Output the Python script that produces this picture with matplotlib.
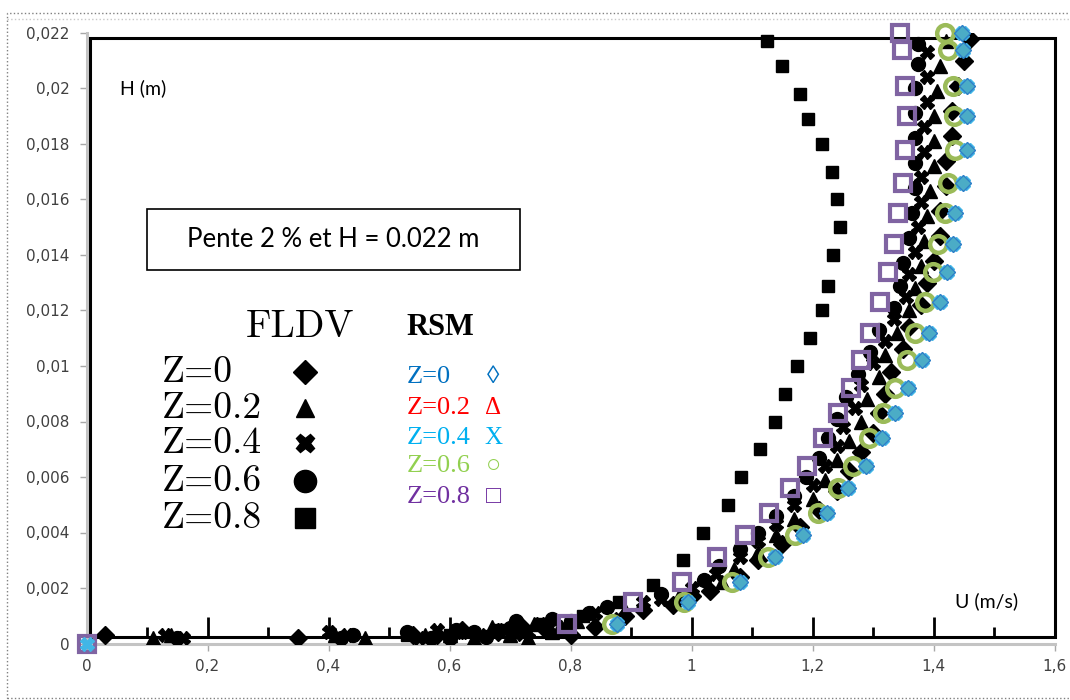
import matplotlib
matplotlib.use("Agg")
import matplotlib.pyplot as plt
from matplotlib.patches import Rectangle

# --- RSM profiles (same mesh heights for every plane) ---
h_rsm = [0.0220, 0.0214, 0.0201, 0.0190, 0.0178, 0.0166, 0.0155, 0.0144, 0.0134, 0.0123,
         0.0112, 0.0102, 0.0092, 0.0083, 0.0074, 0.0064, 0.0056, 0.0047, 0.0039, 0.0031,
         0.0022, 0.0015, 0.0007]
u_rsm_z0 = [1.447, 1.449, 1.456, 1.456, 1.456, 1.449, 1.435, 1.432, 1.422, 1.411,
            1.393, 1.381, 1.358, 1.336, 1.315, 1.288, 1.259, 1.224, 1.185, 1.138,
            1.080, 0.994, 0.877]
u_rsm_z06 = [1.419, 1.424, 1.432, 1.434, 1.436, 1.424, 1.419, 1.407, 1.399, 1.386,
             1.369, 1.356, 1.336, 1.317, 1.293, 1.267, 1.242, 1.209, 1.171, 1.127,
             1.067, 0.988, 0.869]
u_rsm_z08 = [1.345, 1.348, 1.353, 1.356, 1.353, 1.350, 1.341, 1.335, 1.325, 1.311,
             1.295, 1.280, 1.264, 1.242, 1.217, 1.191, 1.163, 1.128, 1.089, 1.042,
             0.985, 0.903, 0.794]
# wall point
u_wall, h_wall = [0.0], [0.0]

# --- FLDV measurements ---
u_fldv_z0 = [0.03, 0.35, 0.54, 0.58, 0.62, 0.68, 0.72, 0.76, 0.92, 1.00,
             0.80, 0.84, 0.89, 0.97, 1.03, 1.08, 1.11, 1.15, 1.18, 1.21,
             1.24, 1.26, 1.28, 1.30, 1.31, 1.32, 1.33, 1.35, 1.36, 1.38,
             1.39, 1.40, 1.41, 1.41, 1.42, 1.42, 1.43, 1.43, 1.44, 1.45, 1.46]
h_fldv_z0 = [0.0003, 0.0002, 0.0003, 0.0003, 0.0005, 0.0004, 0.0006, 0.0005, 0.0012, 0.0017,
             0.0003, 0.0006, 0.0010, 0.0014, 0.0019, 0.0024, 0.0030, 0.0036, 0.0042, 0.0048,
             0.0055, 0.0062, 0.0069, 0.0076, 0.0083, 0.0090, 0.0098, 0.0106, 0.0114, 0.0122,
             0.0130, 0.0138, 0.0147, 0.0156, 0.0165, 0.0174, 0.0183, 0.0192, 0.0201, 0.0210,
             0.0218]

u_fldv_z02 = [0.11, 0.14, 0.41, 0.46, 0.56, 0.60, 0.64, 0.67, 0.70, 0.74, 0.77,
              0.73, 0.78, 0.81, 0.89, 0.98, 1.05, 1.07, 1.11, 1.14, 1.17, 1.20, 1.22, 1.24,
              1.26, 1.28, 1.29, 1.31, 1.32, 1.34, 1.36, 1.37, 1.38, 1.385, 1.39, 1.395,
              1.40, 1.40, 1.40, 1.405, 1.41, 1.42]
h_fldv_z02 = [0.0002, 0.0003, 0.0003, 0.0002, 0.0003, 0.0003, 0.0002, 0.0006, 0.0003, 0.0007,
              0.0004,
              0.0002, 0.0005, 0.0008, 0.0012, 0.0017, 0.0022, 0.0027, 0.0033, 0.0039, 0.0045,
              0.0052, 0.0059, 0.0066, 0.0073, 0.0080, 0.0088, 0.0096, 0.0104, 0.0112, 0.0120,
              0.0128, 0.0136, 0.0145, 0.0154, 0.0163, 0.0172, 0.0181, 0.0190, 0.0199, 0.0208,
              0.0217]

u_fldv_z04 = [0.13, 0.16, 0.40, 0.43, 0.55, 0.62, 0.58, 0.65, 0.69, 0.73, 0.79, 0.88, 0.95,
              0.71, 0.75, 0.84, 0.92, 1.00, 1.04, 1.08, 1.11, 1.14, 1.17, 1.20, 1.22, 1.24,
              1.25, 1.27, 1.28, 1.30, 1.32, 1.335, 1.355, 1.36, 1.37, 1.375, 1.38, 1.38,
              1.385, 1.385, 1.39, 1.39, 1.39]
h_fldv_z04 = [0.0003, 0.0002, 0.0004, 0.0003, 0.0002, 0.0004, 0.0005, 0.0003, 0.0005, 0.0004,
              0.0006, 0.0009, 0.0016,
              0.00035, 0.0007, 0.0011, 0.0015, 0.0020, 0.0025, 0.0031, 0.0037, 0.0043, 0.0050,
              0.0057, 0.0064, 0.0071, 0.0078, 0.0085, 0.0093, 0.0101, 0.0109, 0.0117, 0.0125,
              0.0133, 0.0141, 0.0150, 0.0159, 0.0168, 0.0177, 0.0186, 0.0195, 0.0204, 0.0213]

u_fldv_z06 = [0.15, 0.42, 0.44, 0.57, 0.60, 0.64, 0.53, 0.61, 0.71, 0.80, 0.83,
              0.66, 0.70, 0.77, 0.86, 0.95, 1.02, 1.045, 1.08, 1.11, 1.14, 1.17, 1.19, 1.21,
              1.225, 1.24, 1.255, 1.275, 1.295, 1.31, 1.335, 1.345, 1.35, 1.36, 1.365, 1.37,
              1.37, 1.37, 1.37, 1.37, 1.375, 1.375]
h_fldv_z06 = [0.0002, 0.0002, 0.0003, 0.0002, 0.0002, 0.0004, 0.0004, 0.0005, 0.0008, 0.0008,
              0.0011,
              0.00025, 0.00055, 0.0009, 0.0013, 0.0018, 0.0023, 0.0028, 0.0034, 0.0040, 0.0046,
              0.0053, 0.0060, 0.0067, 0.0074, 0.0081, 0.0089, 0.0097, 0.0105, 0.0113, 0.0121,
              0.0129, 0.0137, 0.0146, 0.0155, 0.0164, 0.0173, 0.0182, 0.0191, 0.0200, 0.0209,
              0.0216]

u_fldv_z08 = [0.53, 0.60, 0.68, 0.75, 0.82, 0.88, 0.936, 0.986, 1.019, 1.060, 1.082, 1.113,
              1.138, 1.155, 1.174, 1.196, 1.216, 1.226, 1.234, 1.245, 1.240, 1.232, 1.216,
              1.193, 1.179, 1.150, 1.125]
h_fldv_z08 = [0.0003, 0.0003, 0.0005, 0.0007, 0.0010, 0.0015, 0.0021, 0.0030, 0.0040, 0.0050,
              0.0060, 0.0070, 0.0080, 0.0090, 0.0100, 0.0110, 0.0120, 0.0129, 0.0140, 0.0150,
              0.0160, 0.0170, 0.0180, 0.0189, 0.0198, 0.0208, 0.0217]

x_ticks = [0, 0.2, 0.4, 0.6, 0.8, 1.0, 1.2, 1.4, 1.6]
x_labels = ["0", "0,2", "0,4", "0,6", "0,8", "1", "1,2", "1,4", "1,6"]
y_ticks = [0, 0.002, 0.004, 0.006, 0.008, 0.010, 0.012, 0.014, 0.016, 0.018, 0.020, 0.022]
y_labels = ["0", "0,002", "0,004", "0,006", "0,008", "0,01", "0,012", "0,014", "0,016",
            "0,018", "0,02", "0,022"]
inner_ticks = [0.1, 0.2, 0.3, 0.4, 0.5, 0.6, 0.7, 0.8, 0.9, 1.0, 1.1, 1.2, 1.3, 1.4, 1.5]

fldv_rows = ["Z=0", "Z=0.2", "Z=0.4", "Z=0.6", "Z=0.8"]
fldv_marks = ["D", "^", "X", "o", "s"]
rsm_rows = ["Z=0", "Z=0.2", "Z=0.4", "Z=0.6", "Z=0.8"]
rsm_syms = ["\u25ca", "\u0394", "X", "\u25cb", "\u25a1"]
rsm_cols = ["#0070C0", "#FF0000", "#00B0F0", "#92D050", "#7030A0"]

PURPLE, GREEN, AQUA, BLUE = "#8064A2", "#9BBB59", "#4BACC6", "#2E7FC8"

fig = plt.figure(figsize=(10.7, 7.0), dpi=100)
ax = fig.add_axes([86.5 / 1070, 1 - 643.5 / 700, 968 / 1070, 610.5 / 700])
ax.set_xlim(0, 1.6)
ax.set_ylim(0, 0.022)

for s in ("top", "right"):
    ax.spines[s].set_visible(False)
for s in ("left", "bottom"):
    ax.spines[s].set_color("#C4C4C4")
    ax.spines[s].set_linewidth(2.2)
ax.set_xticks(x_ticks, x_labels)
ax.set_yticks(y_ticks, y_labels)
ax.tick_params(direction="out", length=5, width=1, color="#A8A8A8", labelcolor="#404040",
               labelsize=11)
ax.tick_params(axis="y", pad=7)
ax.tick_params(axis="x", pad=6)

# pasted inner frame (black box with small ticks on its floor)
ax.add_patch(Rectangle((0.0041, 0.0106), 0.9964, 0.9804, transform=ax.transAxes,
                       fill=False, ec="black", lw=2.2, clip_on=False, zorder=2))
for i, t in enumerate(inner_ticks):
    top = 0.00095 if i % 2 else 0.0006
    ax.vlines(t, 0.00023, top, color="black", lw=2, zorder=2)

# FLDV cloud
ms = dict(color="black", ls="none", zorder=3)
ax.plot(u_fldv_z0, h_fldv_z0, marker="D", ms=9, **ms)
ax.plot(u_fldv_z02, h_fldv_z02, marker="^", ms=10, **ms)
ax.plot(u_fldv_z04, h_fldv_z04, marker="X", ms=10, **ms)
ax.plot(u_fldv_z06, h_fldv_z06, marker="o", ms=10, **ms)
ax.plot(u_fldv_z08, h_fldv_z08, marker="s", ms=9, **ms)

# RSM
ax.plot(u_rsm_z08 + u_wall, h_rsm + h_wall, ls="none", marker="s", ms=12, mfc="none",
        mec=PURPLE, mew=3, zorder=4, clip_on=False)
ax.plot(u_rsm_z06, h_rsm, ls="none", marker="o", ms=12, mfc="none", mec=GREEN, mew=3.2,
        zorder=5, clip_on=False)
ax.plot(u_rsm_z0 + u_wall, h_rsm + h_wall, ls="none", marker="X", ms=10, color="#41B6E6",
        mec="#41B6E6", zorder=6, clip_on=False)
ax.plot(u_rsm_z0, h_rsm, ls="none", marker="D", ms=8.5, mfc=AQUA, mec=BLUE, mew=1,
        zorder=7, clip_on=False)

# axis names inside the plot
ax.text(0.0346, 0.910, "H (m)", transform=ax.transAxes, family="Lato", fontsize=14,
        va="center", ha="left")
ax.text(0.897, 0.0696, "U (m/s)", transform=ax.transAxes, family="Lato", fontsize=14,
        va="center", ha="left")

# caption box
ax.add_patch(Rectangle((0.0625, 0.6118), 0.3853, 0.0999, transform=ax.transAxes,
                       fill=False, ec="black", lw=1.2, zorder=8))
ax.text(0.2546, 0.662, "Pente 2 % et H = 0.022 m", transform=ax.transAxes, family="Lato",
        fontsize=18.5, ha="center", va="center", zorder=9)

# FLDV key (pasted image)
row_y = [0.4447, 0.3857, 0.3284, 0.2661, 0.2055]
ax.text(0.2206, 0.518, "FLDV", transform=ax.transAxes, family="cmr10", fontsize=28,
        ha="center", va="center")
for lab, mk, y in zip(fldv_rows, fldv_marks, row_y):
    ax.text(0.078, y, lab, transform=ax.transAxes, family="cmr10", fontsize=27,
            ha="left", va="center")
    size = {"D": 12, "^": 13, "X": 13, "o": 16, "s": 15}[mk]
    ax.plot([0.2257], [y], transform=ax.transAxes, marker=mk, ms=size, color="black",
            ls="none")

# RSM key
rsm_y = [0.4365, 0.3857, 0.3366, 0.2907, 0.2400]
ax.text(0.331, 0.518, "RSM", transform=ax.transAxes, family="Liberation Serif",
        fontweight="bold", fontsize=22, ha="left", va="center")
for lab, sym, col, y in zip(rsm_rows, rsm_syms, rsm_cols, rsm_y):
    ax.text(0.331, y, lab, transform=ax.transAxes, family="Liberation Serif", fontsize=19,
            color=col, ha="left", va="center")
    ax.text(0.420, y, sym, transform=ax.transAxes, family=["Liberation Serif", "DejaVu Sans"],
            fontsize=18, color=col, ha="center", va="center")

# dotted border of the original screenshot
fig.add_artist(Rectangle((0.0065, 0.003), 1.0, 0.9785, transform=fig.transFigure, fill=False,
                         ec="#808080", lw=1, ls=":"))
fig.add_artist(plt.Line2D([0.0065, 1.0], [0.9729, 0.9729], transform=fig.transFigure,
                          color="#C8C8C8", lw=1, ls=":"))

fig.savefig("out.png", dpi=100)
